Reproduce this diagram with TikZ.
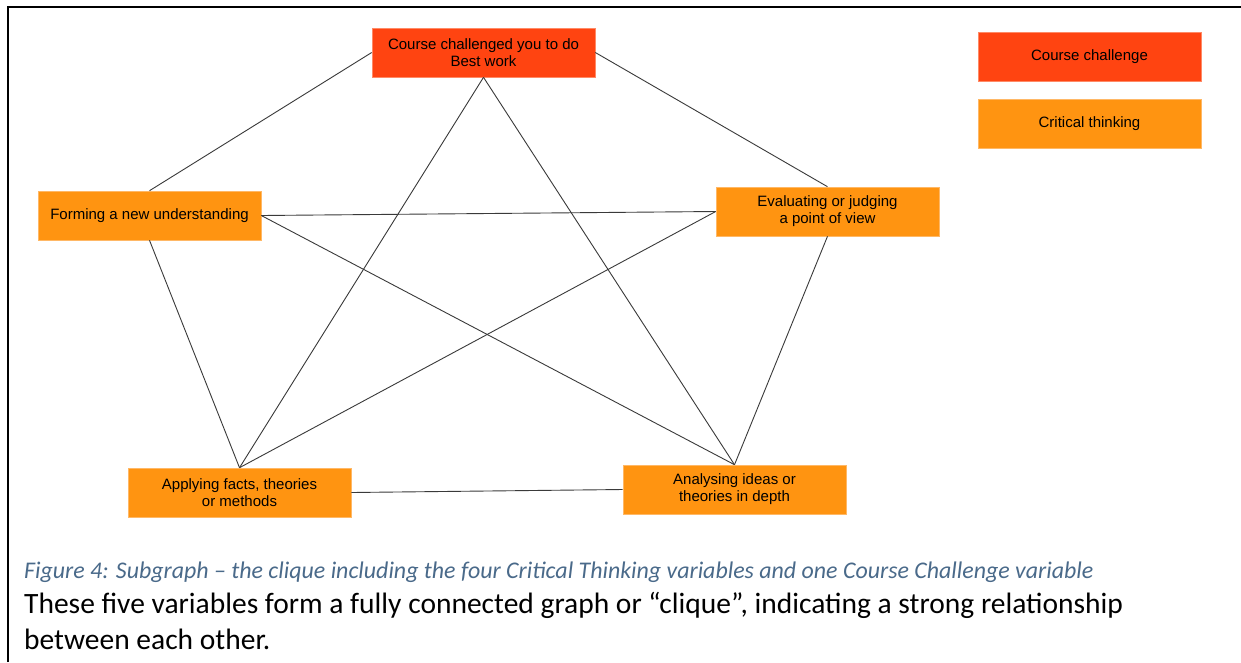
\documentclass[tikz,border=0pt]{standalone}
\usepackage{fontspec}
\setmainfont{Liberation Sans}
\newfontfamily\calib{Carlito}
\definecolor{chal}{HTML}{FF4411}
\definecolor{chalb}{HTML}{FF8A66}
\definecolor{crit}{HTML}{FF9411}
\definecolor{critb}{HTML}{FFB866}
\definecolor{edgec}{HTML}{3A3A3A}
\definecolor{capc}{HTML}{4A6A8A}
\tikzset{
  box/.style={minimum width=223pt, minimum height=49pt, inner sep=0pt, align=center,
    font=\fontsize{15}{17}\selectfont, text=black, line width=0.6pt},
  chalbox/.style={box, fill=chal, draw=chalb},
  critbox/.style={box, fill=crit, draw=critb},
  edge/.style={draw=edgec, line width=0.9pt},
}
\begin{document}
\begin{tikzpicture}[x=1pt,y=-1pt]
\useasboundingbox (0,0) rectangle (1241,662);
\fill[white] (0,0) rectangle (1241,662);
\draw[line width=2pt] (7.5,662) -- (7.5,6.5) -- (1241,6.5);

\node[chalbox] (top) at (483.5,52.5) {Course challenged you to do\\Best work};
\node[critbox] (left) at (149.5,215.5) {Forming a new understanding};
\node[critbox] (right) at (827.5,211.5) {Evaluating or judging\\a point of view};
\node[critbox] (bl) at (239.5,492.5) {Applying facts, theories\\or methods};
\node[critbox] (br) at (734.5,489.5) {Analysing ideas or\\theories in depth};

\node[chalbox] (leg1) at (1089.5,56.5) {Course challenge};
\node[critbox] (leg2) at (1089.5,123.5) {Critical thinking};

\draw[edge] (top.west) -- (left.north);
\draw[edge] (top.east) -- (right.north);
\draw[edge] (top.south) -- (bl.north);
\draw[edge] (top.south) -- (br.north);
\draw[edge] (left.east) -- (right.west);
\draw[edge] (left.south) -- (bl.north);
\draw[edge] (left.east) -- (br.north);
\draw[edge] (right.west) -- (bl.north);
\draw[edge] (right.south) -- (br.north);
\draw[edge] (bl.east) -- (br.west);

\node[anchor=base west, inner sep=0pt, text=capc, font=\calib\itshape\fontsize{23.9}{28}\selectfont] (cap) at (24,578)
  {Figure 4: Subgraph – the clique including the four Critical Thinking variables and one Course Challenge variable};
\node[anchor=base west, inner sep=0pt, text=black, font=\calib\fontsize{29.5}{34}\selectfont] (body1) at (24,613)
  {These five variables form a fully connected graph or “clique”, indicating a strong relationship};
\node[anchor=base west, inner sep=0pt, text=black, font=\calib\fontsize{29.5}{34}\selectfont] (body2) at (24,649)
  {between each other.};
\end{tikzpicture}
\end{document}
